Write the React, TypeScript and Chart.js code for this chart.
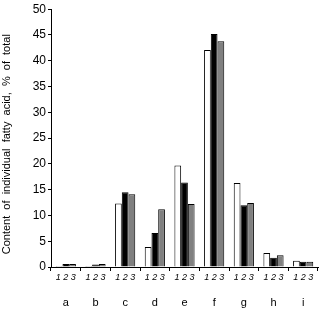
import React, { useEffect, useRef } from "react";
import { Chart, registerables } from "chart.js";

Chart.register(...registerables);

const categories = ["a", "b", "c", "d", "e", "f", "g", "h", "i"];
const groupLabels = categories.map(() => "1 2 3");
const series1 = [0.2, 0.2, 12.3, 3.9, 19.7, 42.1, 16.3, 2.7, 1.2];
const series2 = [0.6, 0.5, 14.5, 6.6, 16.4, 45.2, 12.0, 1.8, 1.0];
const series3 = [0.6, 0.6, 14.1, 11.2, 12.2, 43.8, 12.4, 2.3, 1.0];
const yTitle = "Content  of  individual  fatty  acid,  %  of  total    ";

const FONT = "'Liberation Sans', Arial, sans-serif";

export default function App() {
  const ref = useRef<HTMLCanvasElement | null>(null);
  useEffect(() => {
    if (!ref.current) return;
    const mk = (label: string, data: number[], bg: string) => ({
      label,
      data,
      backgroundColor: bg,
      borderColor: "#000",
      borderWidth: 1,
      categoryPercentage: 0.68,
      barPercentage: 1.0,
      xAxisID: "x",
    });
    const chart = new Chart(ref.current, {
      type: "bar",
      data: {
        labels: groupLabels,
        datasets: [
          mk("1", series1, "#ffffff"),
          mk("2", series2, "#000000"),
          mk("3", series3, "#808080"),
        ],
      },
      options: {
        animation: false,
        responsive: false,
        layout: { padding: { top: 6, right: 3, left: 0, bottom: 0 } },
        plugins: { legend: { display: false }, tooltip: { enabled: false } },
        scales: {
          x: {
            type: "category",
            position: "bottom",
            weight: 0,
            labels: groupLabels,
            grid: { drawOnChartArea: false, tickLength: 4, color: "#000", offset: true },
            border: { color: "#000", width: 1 },
            ticks: { font: { family: FONT, size: 9, style: "italic" }, color: "#000", padding: 1, maxRotation: 0, autoSkip: false },
            afterFit: (s: any) => { s.height = 18; },
          },
          x2: {
            type: "category",
            position: "bottom",
            weight: 1,
            labels: categories,
            grid: { display: false },
            border: { display: false },
            ticks: { font: { family: FONT, size: 11 }, color: "#000", padding: 3, maxRotation: 0, autoSkip: false },
            afterFit: (s: any) => { s.height = 25; },
          },
          y: {
            min: 0,
            max: 50,
            ticks: { stepSize: 5, font: { family: FONT, size: 12 }, color: "#000", padding: 2 },
            grid: { drawOnChartArea: false, tickLength: 3, color: "#000" },
            border: { color: "#000", width: 1 },
            title: { display: true, text: yTitle, font: { family: FONT, size: 11 }, color: "#000", padding: { top: 0, bottom: 2 } },
            afterFit: (s: any) => { s.width = 51; },
          },
        },
      },
    });
    return () => chart.destroy();
  }, []);
  return (
    <div style={{ position: "fixed", left: 0, top: 0, width: 321, height: 310, background: "#fff" }}>
      <canvas ref={ref} width={321} height={310} style={{ width: 321, height: 310 }} />
    </div>
  );
}
